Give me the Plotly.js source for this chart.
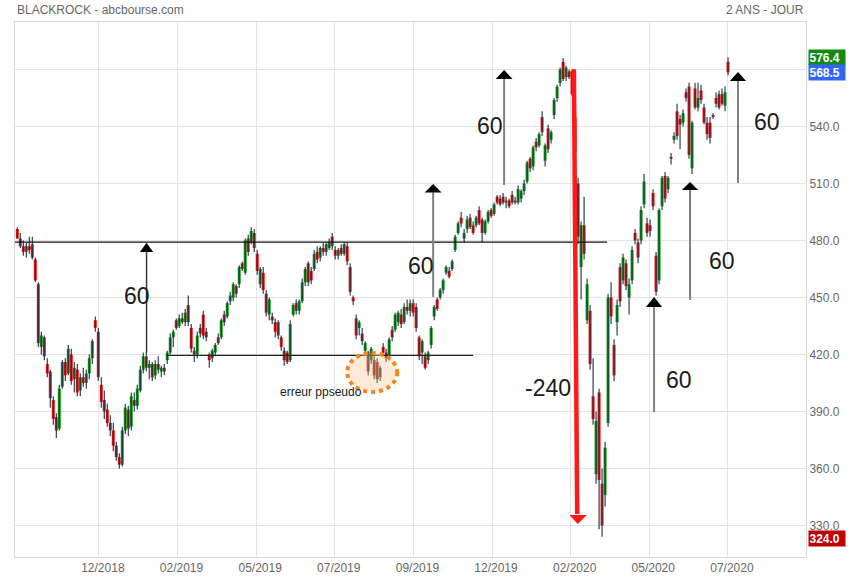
<!DOCTYPE html>
<html><head><meta charset="utf-8">
<script src="https://cdn.plot.ly/plotly-3.0.1.min.js"></script>
<style>html,body{margin:0;padding:0;background:#fff}#chart{width:855px;height:580px}</style>
</head><body><div id="chart"></div>
<script>
// Daily-like OHLC values (one candle ~ 2 trading days)
const open=[
486,481,477,474,477,478,470,457,424,429,
415,411,396,387,381,403,416,410,420,407,
412,401,408,405,410,418,438,432,404,396,
391,384,380,372,366,362,380,391,382,396,
393,401,412,419,413,415,409,415,411,413,
417,421,429,438,435,439,437,446,434,422,
420,434,441,432,420,418,421,429,429,441,
440,448,450,456,457,468,463,481,479,484,
473,457,463,452,441,440,437,437,429,422,
421,417,441,447,443,448,458,468,464,465,
474,471,476,474,476,482,475,472,476,473,
477,466,450,439,434,431,422,421,417,417,
416,408,424,421,419,433,433,437,441,437,
445,443,447,445,429,421,419,417,425,440,
449,450,454,463,464,465,475,484,492,481,
486,492,488,488,496,491,484,490,496,494,
503,502,503,500,501,504,501,500,502,506,
511,523,519,532,530,545,522,539,533,546,
555,563,574,566,569,569,545,510,466,488,
438,443,398,357,400,352,346,384,450,425,
437,466,459,468,450,459,484,479,480,499,
489,488,505,472,459,498,514,507,524,533,
548,544,542,558,561,518,560,550,559,550,
542,542,546,555,557,557,551,574];
const high=[
487,484,480,479,482,482,471,458,432,430,
418,412,398,389,404,417,418,425,423,416,
415,410,413,412,420,428,440,434,408,401,
394,388,384,374,368,382,394,393,400,400,
404,414,421,421,417,416,417,419,414,415,
422,431,433,439,441,442,444,451,436,424,
432,436,443,434,421,423,426,431,439,443,
448,453,458,457,467,469,481,483,487,486,
475,466,466,454,450,442,439,438,430,424,
422,438,447,449,449,460,466,469,466,475,
477,477,479,479,481,484,477,476,478,479,
479,468,451,441,438,434,427,422,424,419,
418,414,426,423,429,435,442,443,444,447,
449,449,449,447,430,428,421,422,435,446,
450,455,460,467,466,470,483,490,495,486,
493,494,490,493,498,492,491,496,497,500,
504,504,505,503,502,506,503,509,507,512,
522,524,530,534,537,548,531,541,538,555,
562,571,576,572,570,570,547,513,490,503,
460,446,418,390,402,360,374,452,458,428,
449,468,473,470,460,477,486,481,498,515,
492,491,507,474,497,514,516,514,526,537,
552,546,549,560,563,543,563,563,562,552,
545,545,547,558,559,560,561,576.4];
const low=[
481,476,472,471,473,470,458,424,420,417,
408,392,383,376,380,402,406,409,404,400,
398,398,403,402,407,415,432,406,392,386,
382,377,369,364,360,361,378,377,380,390,
391,400,410,411,407,406,407,410,408,409,
415,420,424,433,434,436,435,435,421,416,
418,429,428,427,413,416,419,425,428,435,
439,446,448,450,455,464,462,472,478,474,
462,455,452,440,438,436,429,428,422,414,
415,416,440,441,441,447,456,456,457,464,
468,469,472,472,475,475,470,470,472,472,
467,451,446,428,430,425,420,409,415,407,
405,406,420,416,417,427,432,435,434,436,
441,440,440,432,417,415,412,415,423,438,
443,449,452,462,460,464,474,483,487,479,
484,486,483,487,488,479,483,489,492,493,
499,498,499,497,497,499,499,499,500,504,
510,516,517,527,529,535,519,526,531,544,
553,561,564,564,565,556,525,478,449,470,
436,412,383,352,328,324,340,382,436,406,
430,445,457,454,441,457,478,468,478,497,
482,482,496,451,457,496,500,505,520,531,
533,528,540,553,523,515,549,548,552,541,
533,531,544,550,549,551,548,567];
const close=[
481,477,474,477,475,471,459,426,430,419,
410,397,386,380,402,416,409,423,406,413,
400,408,405,410,418,427,434,408,395,390,
384,380,372,366,362,380,392,381,398,393,
402,412,419,413,415,408,415,412,413,411,
421,429,432,434,439,437,442,437,423,420,
430,431,430,429,417,422,425,426,438,437,
447,451,457,452,466,465,480,474,485,476,
464,465,454,442,449,438,432,430,424,417,
416,436,446,443,448,458,465,458,459,473,
470,476,474,478,479,477,472,475,473,478,
469,453,448,430,437,427,426,411,423,409,
407,413,421,418,428,429,441,442,436,445,
443,447,442,434,419,427,413,421,434,445,
444,454,459,466,461,469,482,489,489,484,
491,487,484,492,489,484,490,495,493,499,
500,499,500,501,498,500,500,507,506,510,
521,518,529,529,536,537,530,528,537,554,
561,570,565,571,566,557,527,482,488,473,
457,415,386,385,354,330,371,450,440,409,
446,448,471,456,457,475,480,471,496,511,
484,485,498,453,496,513,502,513,523,535,
535,541,547,555,525,542,550,555,554,542,
536,534,545,552,550,552,558,568.5];

const tickPositions=[27.2,53.42,79.64,105.86,132.08,158.3,184.52,210.74,236.96];
const tickLabels=['12/2018','02/2019','05/2019','07/2019','09/2019','12/2019','02/2020','05/2020','07/2020'];
const yTicks=[330,360,390,420,450,480,510,540,570];
const yTickLabels=['330.0','360.0','390.0','420.0','450.0','480.0','510.0','540.0',''];
const priceTags=[['576.4','#138a13',0],['568.5','#3366ff',0],['324.0','#c00000',-2]];

const FONT='Liberation Sans, Arial, sans-serif';
const idx=close.map((_,i)=>i);

// wicks
const wx=[],wy=[];
idx.forEach(i=>{wx.push(i,i,null);wy.push(low[i],high[i],null);});
const wicks={type:'scatter',mode:'lines',x:wx,y:wy,line:{color:'#173246',width:1.1},hoverinfo:'skip'};
// bodies
const bodies={type:'bar',x:idx,base:idx.map(i=>Math.min(open[i],close[i])),
  y:idx.map(i=>Math.max(Math.abs(close[i]-open[i]),0.5)),width:1.0,
  marker:{color:idx.map(i=>close[i]>=open[i]?'#109a10':'#f01010'),line:{width:0}},hoverinfo:'skip'};

const shapes=[];
const annotations=[];
function hline(x0,x1,y,color,w){shapes.push({type:'line',xref:'x',yref:'y',x0:x0,x1:x1,y0:y,y1:y,line:{color:color,width:w}});}
function upArrow(x,yb,ya,ybase,hw,color,w){
  shapes.push({type:'line',xref:'x',yref:'y',x0:x,x1:x,y0:yb,y1:ybase,line:{color:color,width:w}});
  shapes.push({type:'path',xref:'x',yref:'y',path:`M ${x-hw},${ybase} L ${x},${ya} L ${x+hw},${ybase} Z`,fillcolor:'#000',line:{width:0}});
}
function label(x,y,t,size,anchor){annotations.push({xref:'x',yref:'y',x:x,y:y,text:t,showarrow:false,xanchor:anchor||'center',yanchor:'middle',font:{family:FONT,size:size,color:'#1a1a1a'}});}

hline(-0.77,196.67,479.1,'#111',1.2);
hline(49.67,152,419.5,'#222',1.3);
upArrow(43.1,420.8,478.8,474.0,2.2,'#3a3a3a',1.5);
upArrow(138.67,450.3,509.7,505.3,2.8,'#808080',2);
upArrow(162.33,509.2,569.7,565.0,2.8,'#808080',2);
upArrow(212.33,389.7,450.3,445.0,2.7,'#808080',2);
upArrow(224.33,448.7,510.8,506.6,2.7,'#808080',2);
upArrow(240.33,510.3,568.7,564.0,2.7,'#808080',2);
// red crash arrow
shapes.push({type:'line',xref:'x',yref:'y',x0:185.6,x1:186.7,y0:570.1,y1:336,line:{color:'#ff1a1a',width:4.5}});
shapes.push({type:'path',xref:'x',yref:'y',path:'M 184.1,335.5 L 186.9,330.8 L 189.9,335.5 Z',fillcolor:'#ff1a1a',line:{width:0}});
// orange dotted ellipse
shapes.push({type:'circle',xref:'x',yref:'y',x0:110,x1:126.67,y0:400.3,y1:420.8,fillcolor:'rgba(250,195,140,0.35)',line:{color:'#f5861f',width:4,dash:'dot'}});

label(40,450.7,'60',23);
label(134.67,466.6,'60',23);
label(157.67,540.3,'60',23);
label(220.67,406.6,'60',23);
label(235,469.2,'60',23);
label(250,542.4,'60',23);
label(177,402.4,'-240',23);
label(87,400.3,'erreur ppseudo',12,'left');

annotations.push({xref:'paper',yref:'paper',x:0,y:1,yshift:12,xanchor:'left',yanchor:'middle',showarrow:false,text:'BLACKROCK - abcbourse.com',font:{family:FONT,size:12,color:'#666'}});
annotations.push({xref:'paper',yref:'paper',x:1,y:1,yshift:12,xanchor:'right',yanchor:'middle',showarrow:false,text:'2 ANS - JOUR',font:{family:FONT,size:12,color:'#666'}});
priceTags.forEach(([t,c,s])=>{
  annotations.push({xref:'paper',yref:'y',x:1,xshift:2,y:parseFloat(t),yshift:s,xanchor:'left',yanchor:'middle',showarrow:false,
    text:'<b>'+t+'</b>',bgcolor:c,borderpad:0.5,width:35,align:'left',font:{family:FONT,size:12,color:'#fff'}});
});

const layout={
  width:855,height:580,margin:{l:15,r:49,t:22,b:23},
  paper_bgcolor:'#fff',plot_bgcolor:'#fff',showlegend:false,barmode:'overlay',
  xaxis:{range:[-0.77,263],tickmode:'array',tickvals:tickPositions,ticktext:tickLabels,showgrid:true,gridcolor:'#e4e4e4',
    zeroline:false,showline:true,linecolor:'#d6d6d6',mirror:true,ticks:'',ticklabelshift:4,
    tickfont:{family:FONT,size:12,color:'#666'},fixedrange:true},
  yaxis:{side:'right',range:[313.4,595],tickmode:'array',tickvals:yTicks,ticktext:yTickLabels,showgrid:true,gridcolor:'#e4e4e4',
    zeroline:false,showline:true,linecolor:'#d6d6d6',mirror:true,ticks:'',
    tickfont:{family:FONT,size:12,color:'#666'},fixedrange:true},
  shapes:shapes,annotations:annotations
};
Plotly.newPlot('chart',[wicks,bodies],layout,{staticPlot:true,displayModeBar:false});
</script></body></html>
